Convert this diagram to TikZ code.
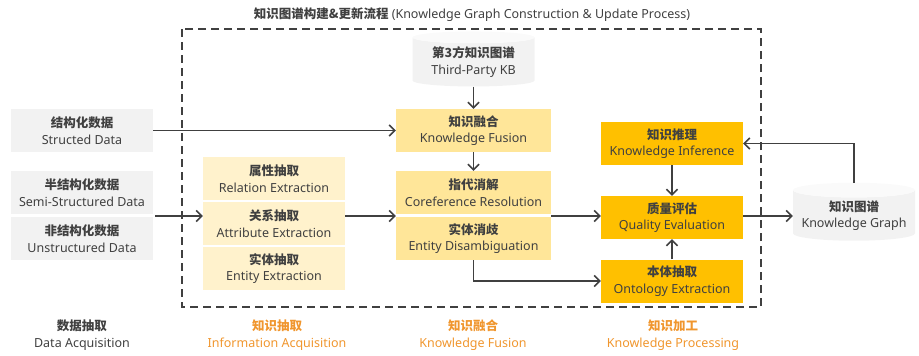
\documentclass[tikz,border=0pt]{standalone}
\usepackage{fontspec}
\setmainfont{Noto Sans}
\newfontfamily\cjk{Noto Sans CJK SC}
\usetikzlibrary{shapes.geometric,arrows.meta}

\definecolor{ink}{HTML}{404040}
\definecolor{srcgray}{HTML}{F2F2F2}
\definecolor{paleyel}{HTML}{FFF2CC}
\definecolor{fusyel}{HTML}{FFE699}
\definecolor{amber}{HTML}{FFC000}
\definecolor{stage}{HTML}{F0962E}

% Chinese title over English title
\newcommand{\twoline}[2]{{\cjk\bfseries #1}\\#2}

\begin{document}
\begin{tikzpicture}
  [x=1pt,y=-1pt,
   every node/.style={align=center,text=ink,inner sep=0pt,font=\fontsize{12.5}{16.5}\selectfont},
   box/.style={minimum width=142pt,minimum height=43pt},
   src/.style={box,fill=srcgray},
   ext/.style={box,fill=paleyel},
   fus/.style={box,minimum width=155pt,fill=fusyel},
   proc/.style={box,fill=amber},
   db/.style={cylinder,shape border rotate=90,aspect=0.14,draw=none,
     cylinder uses custom fill,cylinder body fill=srcgray,cylinder end fill=gray!4,
     minimum width=122pt,minimum height=58pt},
   arr/.style={draw=ink,line width=1.6pt,-{Straight Barb[length=5.5pt,width=11pt]}},
   stagelbl/.style={text=stage}]
  \useasboundingbox (0,0) rectangle (919,356);

  \node (title) at (472,15) {{\cjk\bfseries 知识图谱构建\&更新流程} (Knowledge Graph Construction \& Update Process)};
  \draw [ink,line width=1.7pt,dash pattern=on 8pt off 5pt] (182,29) rectangle (761,307);

  \node [src] (src1) at (82,130.5) {\twoline{结构化数据}{Structed Data}};
  \node [src] (src2) at (82,192.5) {\twoline{半结构化数据}{Semi-Structured Data}};
  \node [src] (src3) at (82,238.5) {\twoline{非结构化数据}{Unstructured Data}};

  \node [ext] (rel) at (274,178.5) {\twoline{属性抽取}{Relation Extraction}};
  \node [ext] (attr) at (274,223.5) {\twoline{关系抽取}{Attribute Extraction}};
  \node [ext] (ent) at (274,268.5) {\twoline{实体抽取}{Entity Extraction}};

  \node [db,minimum height=55pt] (kb) at (473.5,62) {\twoline{第3方知识图谱}{Third-Party KB}};
  \node [fus] (fuse) at (473.5,130.5) {\twoline{知识融合}{Knowledge Fusion}};
  \node [fus] (coref) at (473.5,192.5) {\twoline{指代消解}{Coreference Resolution}};
  \node [fus] (disamb) at (473.5,238.5) {\twoline{实体消歧}{Entity Disambiguation}};

  \node [proc] (infer) at (672,143.5) {\twoline{知识推理}{Knowledge Inference}};
  \node [proc] (qual) at (672,217.5) {\twoline{质量评估}{Quality Evaluation}};
  \node [proc] (onto) at (672,281) {\twoline{本体抽取}{Ontology Extraction}};

  \node [db] (kg) at (854,215.5) {\twoline{知识图谱}{Knowledge Graph}};

  \node (lbl1) at (82,335) {\twoline{数据抽取}{Data Acquisition}};
  \node [stagelbl] (lbl2) at (277,335) {\twoline{知识抽取}{Information Acquisition}};
  \node [stagelbl] (lbl3) at (473,335) {\twoline{知识融合}{Knowledge Fusion}};
  \node [stagelbl] (lbl4) at (673,335) {\twoline{知识加工}{Knowledge Processing}};

  \coordinate (mid) at (155,216);

  \draw [arr] (src1) -- (fuse);
  \draw [arr] (mid) -- (mid -| attr.west);
  \draw [arr] (attr.east |- mid) -- (coref.west |- mid);
  \draw [arr] (kb) -- (fuse);
  \draw [arr] (fuse) -- (coref);
  \draw [arr] (coref.east |- mid) -- (qual.west |- mid);
  \draw [arr] (disamb.south) |- (onto.west);
  \draw [arr] (onto) -- (qual);
  \draw [arr] (infer) -- (qual);
  \draw [arr] (qual.east |- mid) -- (kg.west |- mid);
  \draw [arr] (kg.north) |- (infer.east);

\end{tikzpicture}
\end{document}
